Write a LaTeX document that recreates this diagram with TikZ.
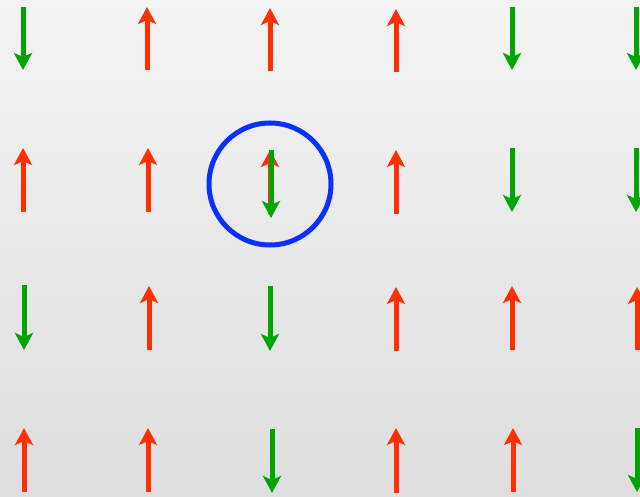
\documentclass[tikz,border=0pt]{standalone}
\usetikzlibrary{arrows.meta}

\definecolor{spinred}{RGB}{255,48,0}
\definecolor{spingreen}{RGB}{0,165,0}
\definecolor{ringblue}{RGB}{8,48,255}

\tikzset{
  spin/.style={line width=5pt, -{Stealth[length=17pt,width=18pt,inset=4pt]}},
  spinup/.style={spin, spinred},
  spindown/.style={spin, spingreen},
}

\begin{document}
\begin{tikzpicture}[x=1pt,y=-1pt]
        % Background
        \shade[top color={rgb,255:red,243;green,243;blue,243}, bottom color={rgb,255:red,222;green,222;blue,222}] (0,0) rectangle (640,497);
        \useasboundingbox (0,0) rectangle (640,497);

        % Row 1
        \draw[spindown] (23,7) -- (23,70);
        \draw[spinup] (147,70) -- (147,7);
        \draw[spinup] (270,71) -- (270,8);
        \draw[spinup] (396,72) -- (396,9);
        \draw[spindown] (512,7) -- (512,70);
        \draw[spindown] (636,7) -- (636,70);

        % Row 2 (flipped spin in the middle)
        \draw[spinup] (23,212) -- (23,148);
        \draw[spinup] (148,212) -- (148,148);
        \draw[spinup] (270,214) -- (270,150);
        \draw[spindown] (271,150) -- (271,218);
        \draw[spinup] (396,214) -- (396,150);
        \draw[spindown] (512,148) -- (512,212);
        \draw[spindown] (636,148) -- (636,212);

        % Row 3
        \draw[spindown] (24,285) -- (24,350);
        \draw[spinup] (149,350) -- (149,286);
        \draw[spindown] (270,286) -- (270,351);
        \draw[spinup] (396,351) -- (396,287);
        \draw[spinup] (512,350) -- (512,286);
        \draw[spinup] (637,350) -- (637,287);

        % Row 4
        \draw[spinup] (24,492) -- (24,428);
        \draw[spinup] (148,492) -- (148,428);
        \draw[spindown] (272,429) -- (272,493);
        \draw[spinup] (396,493) -- (396,428);
        \draw[spinup] (513,492) -- (513,428);
        \draw[spindown] (637,428) -- (637,492);

        % Defect marker
        \draw[ringblue, line width=5pt] (270,184) circle (61);
\end{tikzpicture}
\end{document}
